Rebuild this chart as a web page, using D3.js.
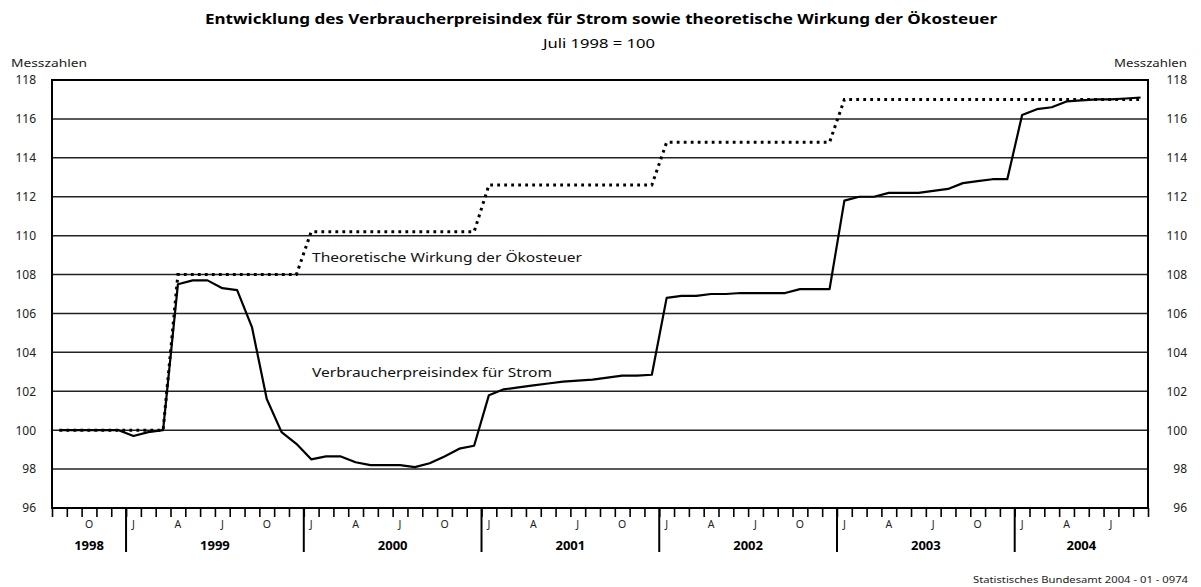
<!DOCTYPE html>
<html>
<head>
<meta charset="utf-8">
<script src="https://d3js.org/d3.v7.min.js"></script>
<style>
  body { margin: 0; background: #fff; }
  svg { display: block; font-family: "Noto Sans", "DejaVu Sans", sans-serif; }
</style>
</head>
<body>
<div id="chart"></div>
<script>
// months shown: Aug 1998 .. Sep 2004 (one value per month)
var years = ["1998", "1999", "2000", "2001", "2002", "2003", "2004"];
var monthsPerYear = [5, 12, 12, 12, 12, 12, 9];
var monthLetters = ["J", "", "", "A", "", "", "J", "", "", "O", "", ""];
var firstMonth = 7; // August 1998 (0 = January)

// Verbraucherpreisindex fuer Strom, Juli 1998 = 100
var strom = [
  100.0, 100.0, 100.0, 100.0, 100.0,
  99.7, 99.9, 100.0, 107.5, 107.7, 107.7, 107.3, 107.2, 105.3, 101.6, 99.9, 99.3,
  98.5, 98.65, 98.65, 98.35, 98.2, 98.2, 98.2, 98.1, 98.3, 98.65, 99.05, 99.2,
  101.8, 102.1, 102.2, 102.3, 102.4, 102.5, 102.55, 102.6, 102.7, 102.8, 102.8, 102.85,
  106.8, 106.9, 106.9, 107.0, 107.0, 107.05, 107.05, 107.05, 107.05, 107.25, 107.25, 107.25,
  111.8, 112.0, 112.0, 112.2, 112.2, 112.2, 112.3, 112.4, 112.7, 112.8, 112.9, 112.9,
  116.2, 116.5, 116.6, 116.9, 116.95, 117.0, 117.0, 117.05, 117.1
];

// theoretische Wirkung der Oekosteuer
var oekosteuer = [
  100.0, 100.0, 100.0, 100.0, 100.0,
  100.0, 100.0, 100.0, 108.0, 108.0, 108.0, 108.0, 108.0, 108.0, 108.0, 108.0, 108.0,
  110.2, 110.2, 110.2, 110.2, 110.2, 110.2, 110.2, 110.2, 110.2, 110.2, 110.2, 110.2,
  112.6, 112.6, 112.6, 112.6, 112.6, 112.6, 112.6, 112.6, 112.6, 112.6, 112.6, 112.6,
  114.8, 114.8, 114.8, 114.8, 114.8, 114.8, 114.8, 114.8, 114.8, 114.8, 114.8, 114.8,
  117.0, 117.0, 117.0, 117.0, 117.0, 117.0, 117.0, 117.0, 117.0, 117.0, 117.0, 117.0,
  117.0, 117.0, 117.0, 117.0, 117.0, 117.0, 117.0, 117.0, 117.0
];

var yTicks = [96, 98, 100, 102, 104, 106, 108, 110, 112, 114, 116, 118];

// note: "top" is taken by window.top, so plot edges get their own names
var W = 1201, H = 587;
var pLeft = 52, pRight = 1148, pTop = 80, pBottom = 508;
var nMonths = strom.length;

var svg = d3.select("#chart").append("svg")
    .attr("width", W)
    .attr("height", H);

var x = d3.scaleLinear().domain([0, nMonths]).range([pLeft, pRight]);
var y = d3.scaleLinear().domain([96, 118]).range([pBottom, pTop]);

// titles
svg.append("text")
    .attr("x", 601).attr("y", 24)
    .attr("text-anchor", "middle")
    .attr("font-size", 15).attr("font-weight", "bold")
    .attr("textLength", 792).attr("lengthAdjust", "spacingAndGlyphs")
    .text("Entwicklung des Verbraucherpreisindex für Strom sowie theoretische Wirkung der Ökosteuer");
svg.append("text")
    .attr("x", 599).attr("y", 48)
    .attr("text-anchor", "middle")
    .attr("font-size", 12)
    .attr("textLength", 112).attr("lengthAdjust", "spacingAndGlyphs")
    .text("Juli 1998 = 100");

svg.append("text")
    .attr("x", 11).attr("y", 67)
    .attr("font-size", 10).attr("fill", "#222")
    .attr("textLength", 76).attr("lengthAdjust", "spacingAndGlyphs")
    .text("Messzahlen");
svg.append("text")
    .attr("x", 1187).attr("y", 67)
    .attr("text-anchor", "end")
    .attr("font-size", 10).attr("fill", "#222")
    .attr("textLength", 73).attr("lengthAdjust", "spacingAndGlyphs")
    .text("Messzahlen");

// gridlines
svg.append("g").selectAll("line")
    .data(yTicks)
    .enter().append("line")
    .attr("x1", pLeft).attr("x2", pRight)
    .attr("y1", function(d) { return y(d); })
    .attr("y2", function(d) { return y(d); })
    .attr("stroke", "#222").attr("stroke-width", 1.5);

// y labels, both sides
var yAxisL = d3.axisLeft(y).tickValues(yTicks).tickSize(0).tickPadding(16);
var yAxisR = d3.axisRight(y).tickValues(yTicks).tickSize(0).tickPadding(15);
svg.append("g").attr("transform", "translate(" + pLeft + ",0)").call(yAxisL)
  .call(function(g) { g.select(".domain").remove(); });
svg.append("g").attr("transform", "translate(" + pRight + ",0)").call(yAxisR)
  .call(function(g) {
    g.select(".domain").remove();
    // right labels are right aligned
    g.selectAll("text").attr("text-anchor", "end").attr("x", 39);
  });
svg.selectAll(".tick text")
    .attr("font-size", 12).attr("fill", "#222")
    .attr("font-family", "Noto Sans, sans-serif");

// month ticks
var xAxis = d3.axisBottom(x)
    .tickValues(d3.range(0, nMonths + 1))
    .tickSize(9)
    .tickFormat("");
svg.append("g")
    .attr("transform", "translate(0," + pBottom + ")")
    .call(xAxis)
    .call(function(g) {
      g.select(".domain").remove();
      g.selectAll(".tick line").attr("stroke", "#000").attr("stroke-width", 1.6);
    });

// year separators and labels
var yearStart = [];
var acc = 0;
monthsPerYear.forEach(function(n) { yearStart.push(acc); acc += n; });

svg.append("g").selectAll("line")
    .data(yearStart.slice(1))
    .enter().append("line")
    .attr("x1", function(d) { return x(d); })
    .attr("x2", function(d) { return x(d); })
    .attr("y1", pBottom).attr("y2", 552)
    .attr("stroke", "#000").attr("stroke-width", 2);

svg.append("g").selectAll("text")
    .data(years)
    .enter().append("text")
    .attr("x", function(d, i) { return x(yearStart[i] + monthsPerYear[i] / 2); })
    .attr("y", 550)
    .attr("text-anchor", "middle")
    .attr("font-size", 13).attr("font-weight", "bold")
    .text(function(d) { return d; });

// month letters
var monthIdx = d3.range(nMonths);
svg.append("g").selectAll("text")
    .data(monthIdx.filter(function(i) { return monthLetters[(i + firstMonth) % 12] !== ""; }))
    .enter().append("text")
    .attr("x", function(i) { return x(i + 0.5); })
    .attr("y", 528)
    .attr("text-anchor", "middle")
    .attr("font-size", 10.5).attr("fill", "#222")
    .text(function(i) { return monthLetters[(i + firstMonth) % 12]; });

// lines
var line = function(vals) {
  return d3.line()
    .x(function(d, i) { return x(i + 0.5); })
    .y(function(d) { return y(d); })(vals);
};

svg.append("path")
    .attr("d", line(strom))
    .attr("fill", "none")
    .attr("stroke", "#000")
    .attr("stroke-width", 2.2)
    .attr("stroke-linejoin", "round");

svg.append("path")
    .attr("d", line(oekosteuer))
    .attr("fill", "none")
    .attr("stroke", "#000")
    .attr("stroke-width", 3)
    .attr("stroke-dasharray", "2.8,4.2");

// plot frame
svg.append("rect")
    .attr("x", pLeft).attr("y", pTop)
    .attr("width", pRight - pLeft).attr("height", pBottom - pTop)
    .attr("fill", "none")
    .attr("stroke", "#000").attr("stroke-width", 2);

// series labels
svg.append("text")
    .attr("x", 312).attr("y", 262)
    .attr("font-size", 13).attr("fill", "#111")
    .attr("textLength", 270).attr("lengthAdjust", "spacingAndGlyphs")
    .text("Theoretische Wirkung der Ökosteuer");
svg.append("text")
    .attr("x", 312).attr("y", 377)
    .attr("font-size", 13).attr("fill", "#111")
    .attr("textLength", 240).attr("lengthAdjust", "spacingAndGlyphs")
    .text("Verbraucherpreisindex für Strom");

// source
svg.append("text")
    .attr("x", 1188).attr("y", 583)
    .attr("text-anchor", "end")
    .attr("font-size", 8).attr("fill", "#222")
    .attr("textLength", 215).attr("lengthAdjust", "spacingAndGlyphs")
    .text("Statistisches Bundesamt 2004 - 01 - 0974");
</script>
</body>
</html>
